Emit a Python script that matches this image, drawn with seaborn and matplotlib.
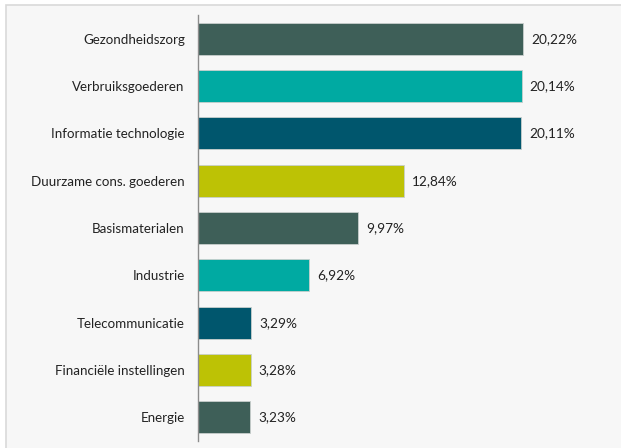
import pandas as pd
import seaborn as sns
import matplotlib.pyplot as plt
from matplotlib.patches import Rectangle
from matplotlib.ticker import FixedLocator

sectors = ['Gezondheidszorg', 'Verbruiksgoederen', 'Informatie technologie',
           'Duurzame cons. goederen', 'Basismaterialen', 'Industrie',
           'Telecommunicatie', 'Financiële instellingen', 'Energie']
weights = [20.22, 20.14, 20.11, 12.84, 9.97, 6.92, 3.29, 3.28, 3.23]
bar_colors = ['#3e5f58', '#00aaa2', '#00566d', '#bdc205',
              '#3e5f58', '#00aaa2', '#00566d', '#bdc205', '#3e5f58']

df = pd.DataFrame({'sector': sectors, 'weight': weights})

sns.set_style('white')
plt.rcParams['font.family'] = ['Lato', 'DejaVu Sans']

fig = plt.figure(figsize=(6.21, 4.48), dpi=100)
fig.patch.set_facecolor('white')
fig.patches.append(Rectangle((6 / 621, -0.01), 1.0, 1 - 5 / 448 + 0.01,
                             transform=fig.transFigure, facecolor='#f7f7f7',
                             edgecolor='#d9d9d9', linewidth=1.2, zorder=-5))

ax = fig.add_axes([198 / 621, 7 / 448, 1 - 198 / 621, 426 / 448])
ax.set_facecolor('none')

sns.barplot(data=df, x='weight', y='sector', hue='sector', palette=bar_colors,
            saturation=1, legend=False, width=0.67, ax=ax,
            edgecolor='#c8cfcd', linewidth=0.6)

ax.set_xlim(0, 423 / (325 / 20.22))
ax.set_ylim(8.5, -0.5)
ax.set_xlabel('')
ax.set_ylabel('')
ax.set_xticks([])

for s in ['top', 'right', 'bottom']:
    ax.spines[s].set_visible(False)
ax.spines['left'].set_color('#8c8c8c')
ax.spines['left'].set_linewidth(1.0)

ax.tick_params(axis='y', which='major', length=0, pad=9.5, labelsize=9.6,
               labelcolor='#222222')
ax.yaxis.set_minor_locator(FixedLocator([i - 0.5 for i in range(10)]))
ax.tick_params(axis='y', which='minor', length=4, color='#bdbdbd', width=1)

for i, v in enumerate(weights):
    ax.text(v + 0.5, i, f'{v:.2f}%'.replace('.', ','), va='center', ha='left',
            fontsize=9.8, color='#222222')

plt.savefig('out.png', dpi=100)
